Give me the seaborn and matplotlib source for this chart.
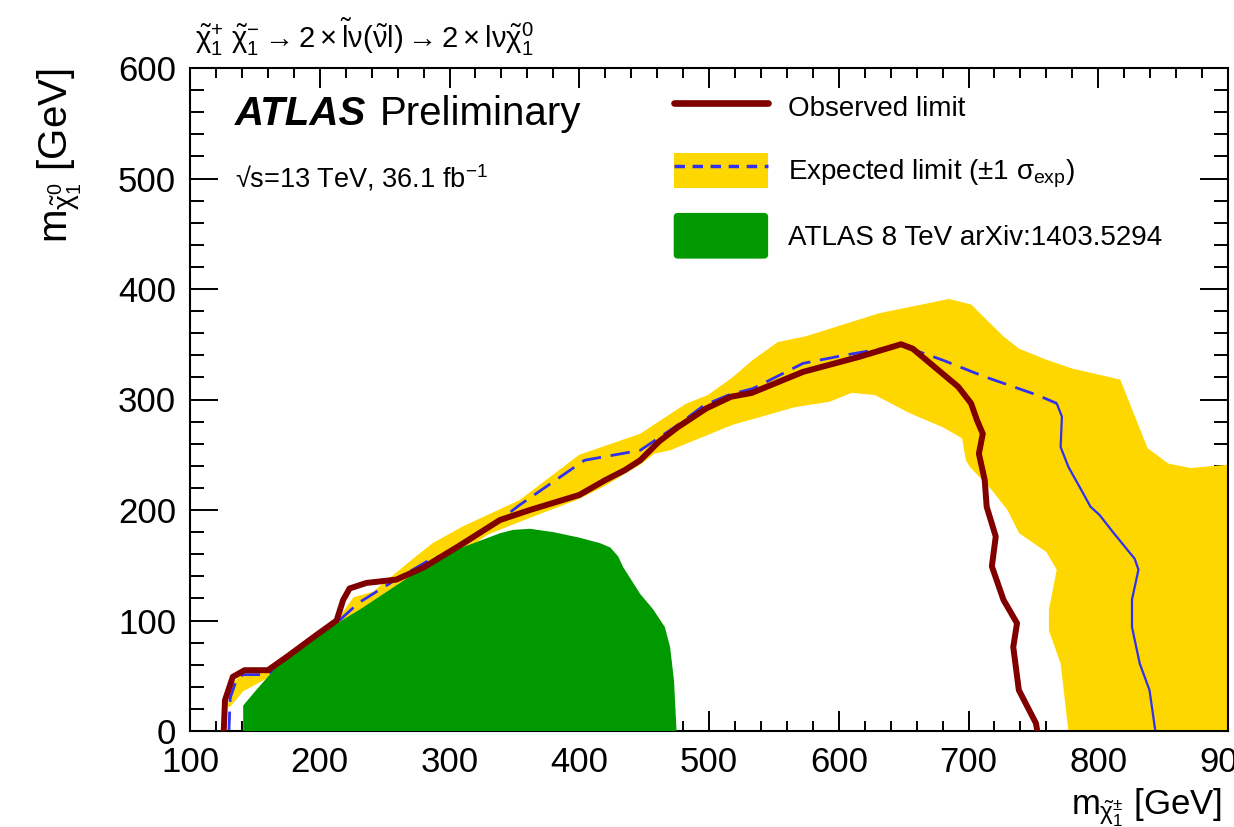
import matplotlib
matplotlib.use("Agg")
import matplotlib.pyplot as plt
import seaborn as sns
from matplotlib.lines import Line2D
from matplotlib.patches import Patch, FancyBboxPatch
from matplotlib.legend_handler import HandlerPatch
from matplotlib.ticker import MultipleLocator

# Observed 95% CL exclusion contour (chargino mass, neutralino mass) [GeV]
obs_x = [126, 127, 133, 142, 160, 174.5, 197.6, 213, 218, 223, 236, 259, 280, 308,
         339, 362, 400, 420, 435, 447, 461.5, 476, 498, 517, 533, 572.5, 616, 648,
         657, 692, 702, 706.5, 711, 708, 712.5, 714, 721, 718, 727, 737.4, 734.5,
         738.8, 752, 753]
obs_y = [0, 28, 49, 55, 55, 67, 87, 100, 118.5, 129, 134, 137, 148, 168,
         191, 200, 213.6, 227, 236, 245, 262, 275, 292, 302.5, 306, 325, 338.7, 350,
         346, 311.6, 296.5, 281.4, 269, 251, 227, 203, 176, 149, 118.6, 97.5, 76,
         37, 7, 0]

# Expected exclusion contour
exp_x = [130, 131, 136, 141, 160, 175, 200, 215, 230, 260, 285, 305.5, 339, 354,
         404, 447, 476, 496.5, 515, 534, 572.5, 604, 648, 680, 712.5, 753, 768,
         772, 771, 777, 787, 794, 801, 812, 828, 831, 826, 826, 832, 839.5, 844]
exp_y = [0, 30, 47, 51, 51, 64, 86, 100, 116, 138, 155, 164, 191, 204.5,
         245, 254, 277, 295, 304, 310, 332.7, 340, 349, 335.7, 320.6, 304, 296.5,
         284.5, 257, 239, 218, 203, 195.5, 179, 156, 146, 119, 94, 61, 37, 0]
exp_dash_end = 27  # the arc above the turning point is drawn dashed

# +-1 sigma band around the expected contour (closed polygon)
band_x = [129, 132, 140, 160, 185, 215, 226, 241, 272, 287, 310, 354, 400, 447,
          482, 499, 517, 534, 553, 574, 631, 685, 702, 727, 739, 760, 780, 817,
          838, 854, 871, 900, 900,
          777, 771, 762, 762, 768, 760, 739, 730, 718, 701, 698, 695, 680, 654,
          628, 610, 593, 566, 518, 470, 458, 447, 420, 400, 360, 330, 300, 260,
          220, 180, 160, 141, 131]
band_y = [22, 42, 52, 53, 75, 103, 121, 126, 156, 170, 185, 209, 250, 269,
          296, 304, 319, 336, 352, 357, 378, 391, 386, 357, 346, 336, 328, 318,
          256, 242, 238, 241, 0,
          0, 61, 91, 110, 146, 162, 179, 200, 218, 239, 245, 265, 275, 288,
          304, 306, 298, 293, 277, 254, 251, 241, 222, 210, 192, 178, 155, 125,
          95, 62, 48, 36, 22]

# ATLAS 8 TeV excluded region
old_x = [141, 141, 151, 169, 200, 231, 267, 305, 339, 349, 362, 380, 400, 416,
         424, 430, 434, 447, 457, 466, 470, 473, 475]
old_y = [0, 23, 37, 61, 88, 110, 138, 164, 179, 182, 183, 180, 175, 170,
         166, 158, 148, 124, 110, 94, 76, 46, 0]

C_OBS = "#800000"
C_EXP = "#3030f0"
C_BAND = "#ffd700"
C_OLD = "#009900"

sns.set_style("ticks")
plt.rcParams["font.family"] = ["Liberation Sans", "DejaVu Sans"]
plt.rcParams["text.color"] = "black"
plt.rcParams["mathtext.fontset"] = "custom"
plt.rcParams["mathtext.rm"] = "Liberation Sans"
plt.rcParams["mathtext.it"] = "Liberation Sans"
plt.rcParams["mathtext.bf"] = "Liberation Sans:bold"

W, H = 1234, 827
fig = plt.figure(figsize=(W / 100, H / 100), dpi=100)
ax = fig.add_axes([190 / W, 96 / H, 1038 / W, 663 / H])

ax.fill(band_x, band_y, color=C_BAND, lw=0, zorder=1)
sns.lineplot(x=exp_x[:exp_dash_end], y=exp_y[:exp_dash_end], sort=False,
             estimator=None, color=C_EXP, lw=2.0, dashes=False, ax=ax, zorder=2)
ax.lines[-1].set_dashes((7, 3.5))
sns.lineplot(x=exp_x[exp_dash_end - 1:], y=exp_y[exp_dash_end - 1:], sort=False,
             estimator=None, color=C_EXP, lw=1.6, ax=ax, zorder=2)
ax.fill(old_x, old_y, color=C_OLD, lw=0, zorder=3)
sns.lineplot(x=obs_x, y=obs_y, sort=False, estimator=None, color=C_OBS,
             lw=4.3, ax=ax, zorder=4)

ax.set_xlim(100, 900)
ax.set_ylim(0, 600)
ax.xaxis.set_major_locator(MultipleLocator(100))
ax.xaxis.set_minor_locator(MultipleLocator(20))
ax.yaxis.set_major_locator(MultipleLocator(100))
ax.yaxis.set_minor_locator(MultipleLocator(20))
ax.tick_params(which="both", direction="in", top=True, right=True,
               width=1.4, labelsize=25, colors="black")
ax.xaxis.set_tick_params(which="major", length=14.5, pad=11)
ax.xaxis.set_tick_params(which="minor", length=7.2)
ax.yaxis.set_tick_params(which="major", length=20, pad=10)
ax.yaxis.set_tick_params(which="minor", length=10)
for s in ax.spines.values():
    s.set_linewidth(1.5)
    s.set_color("black")
ax.set_xlabel("")
ax.set_ylabel("")

# axis titles
fig.text(1222 / W, 1 - 815 / H, r"$m_{\tilde{\chi}^{\pm}_{1}}$ [GeV]",
         ha="right", va="baseline", fontsize=25)
fig.text(36 / W, 1 - 68 / H, r"$m_{\tilde{\chi}^{0}_{1}}$ [GeV]",
         rotation=90, ha="left", va="top", fontsize=29)

# process
fig.text(195 / W, 1 - 48 / H,
         r"$\tilde{\chi}^{+}_{1}\ \tilde{\chi}^{-}_{1} \rightarrow 2\times\tilde{l}\nu(\tilde{\nu}l)"
         r" \rightarrow 2\times l\nu\tilde{\chi}^{0}_{1}$",
         ha="left", va="baseline", fontsize=21)

# labels inside the frame
ax.text(0.043, 0.914, "ATLAS", transform=ax.transAxes, fontsize=29,
        fontweight="bold", fontstyle="italic", ha="left", va="baseline")
ax.text(0.183, 0.914, "Preliminary", transform=ax.transAxes,
        fontsize=29, ha="left", va="baseline")
ax.text(0.043, 0.82, "\u221as=13 TeV, 36.1 fb$^{-1}$",
        transform=ax.transAxes, fontsize=19.5, ha="left", va="baseline")


class RoundedBoxHandler(HandlerPatch):
    """Legend key drawn as a taller box with softly rounded corners."""

    def create_artists(self, legend, orig_handle, xdescent, ydescent,
                       width, height, fontsize, trans):
        grow = 0.14 * height
        p = FancyBboxPatch((-xdescent, -ydescent - grow), width,
                           height + 2 * grow,
                           boxstyle="round,pad=0,rounding_size=3",
                           facecolor=orig_handle.get_facecolor(),
                           edgecolor="none", transform=trans)
        return [p]


green_key = Patch(facecolor=C_OLD, edgecolor="none")
handles = [
    Line2D([], [], color=C_OBS, lw=4.8),
    (Patch(facecolor=C_BAND, edgecolor="none"),
     Line2D([], [], color=C_EXP, lw=2.5, dashes=(3, 2.2))),
    green_key,
]
labels = ["Observed limit",
          r"Expected limit ($\pm$1 $\sigma_{\mathrm{exp}}$)",
          "ATLAS 8 TeV arXiv:1403.5294"]
ax.legend(handles, labels, loc="upper left", bbox_to_anchor=(0.466, 0.968),
          frameon=False, fontsize=20, handlelength=3.4, handleheight=1.6,
          handletextpad=0.72, labelspacing=1.0, borderpad=0, borderaxespad=0,
          handler_map={green_key: RoundedBoxHandler()})

fig.savefig("out.png", dpi=100)
